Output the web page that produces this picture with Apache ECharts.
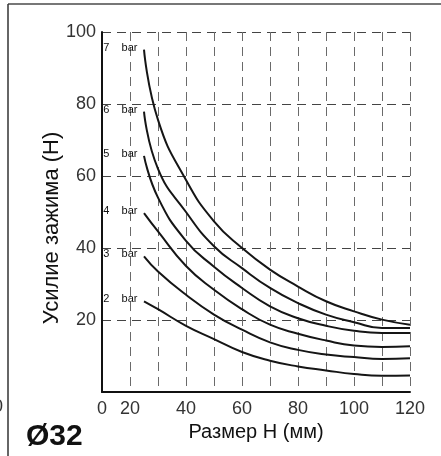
<!DOCTYPE html>
<html>
<head>
<meta charset="utf-8">
<style>
  html, body { margin: 0; padding: 0; background: #fff; }
  #chart { width: 441px; height: 456px; }
</style>
<script src="https://cdn.jsdelivr.net/npm/echarts@6/dist/echarts.min.js"></script>
</head>
<body>
<div id="chart"></div>
<script>
// Clamping force vs. jaw size H, cylinder bore Ø32, one curve per supply pressure
const sizeH = [25, 30, 40, 50, 60, 70, 80, 90, 100, 110, 120];
const force2bar = [25.2, 23.0, 18.4, 14.7, 11.1, 8.7, 7.1, 6.0, 5.0, 4.5, 4.6];
const force3bar = [37.7, 33.5, 27.0, 21.5, 17.3, 13.8, 11.7, 10.4, 9.7, 9.2, 9.4];
const force4bar = [49.7, 44.6, 35.0, 28.4, 23.0, 18.7, 16.2, 14.3, 12.9, 12.5, 12.7];
const force5bar = [65.6, 54.0, 42.0, 34.8, 28.9, 23.8, 20.5, 18.4, 17.0, 16.4, 16.4];
const force6bar = [77.9, 62.0, 50.0, 40.5, 34.4, 28.9, 24.7, 21.5, 19.4, 17.8, 17.8];
const force7bar = [95.1, 75.6, 58.9, 47.4, 40.0, 34.0, 29.3, 25.2, 22.4, 20.1, 18.7];

const pressureLabels = ['2    bar', '3    bar', '4    bar', '5    bar', '6    bar', '7    bar'];
const forceCurves = [force2bar, force3bar, force4bar, force5bar, force6bar, force7bar];

// x-axis tick texts (the axis starts at 10, shown as "0")
const xTickText = { 10: '0', 20: '20', 40: '40', 60: '60', 80: '80', 100: '100', 120: '120' };

const axisFont = 'Liberation Sans, Arial, sans-serif';

const series = forceCurves.map((values, i) => ({
  type: 'line',
  name: pressureLabels[i],
  smooth: 0.5,
  showSymbol: true,
  symbol: 'circle',
  symbolSize: 1,
  lineStyle: { color: '#151515', width: 2 },
  itemStyle: { color: 'rgba(0,0,0,0)', borderWidth: 0 },
  label: { show: false },
  data: values.map((v, k) => k === 0
    ? {
        value: [sizeH[k], v],
        label: {
          show: true,
          formatter: pressureLabels[i],
          position: 'left',
          distance: 6,
          offset: [0, -2],
          fontFamily: axisFont,
          fontSize: 11,
          color: '#111'
        }
      }
    : [sizeH[k], v]),
  z: 3
}));

const chart = echarts.init(document.getElementById('chart'), null, { renderer: 'canvas' });
chart.setOption({
  animation: false,
  backgroundColor: '#fff',
  grid: { left: 102, right: 31, top: 32, bottom: 64 },
  xAxis: {
    type: 'value',
    min: 10,
    max: 120,
    interval: 10,
    name: 'Размер Н (мм)',
    nameLocation: 'middle',
    nameGap: 29,
    nameTextStyle: { fontFamily: axisFont, fontSize: 20, color: '#111' },
    axisLine: { show: true, onZero: false, lineStyle: { color: '#111', width: 2 } },
    axisTick: { show: false },
    axisLabel: {
      margin: 8,
      fontFamily: axisFont,
      fontSize: 18,
      color: '#333',
      formatter: v => (xTickText[v] !== undefined ? xTickText[v] : '')
    },
    splitLine: { show: true, lineStyle: { color: '#6a6a6a', width: 1, type: [9, 6] } }
  },
  yAxis: {
    type: 'value',
    min: 0,
    max: 100,
    interval: 20,
    axisLine: { show: true, onZero: false, lineStyle: { color: '#111', width: 2 } },
    axisTick: { show: false },
    axisLabel: {
      margin: 6,
      showMinLabel: false,
      fontFamily: axisFont,
      fontSize: 18,
      color: '#333'
    },
    splitLine: { show: true, lineStyle: { color: '#444', width: 1, type: [9, 6] } }
  },
  series: series,
  graphic: [
    { type: 'line', shape: { x1: 8, y1: 4, x2: 441, y2: 4 }, style: { stroke: '#777', lineWidth: 2 } },
    { type: 'line', shape: { x1: 8, y1: 4, x2: 8, y2: 456 }, style: { stroke: '#333', lineWidth: 1.5 } },
    {
      type: 'text', x: 52, y: 228, rotation: Math.PI / 2,
      style: { text: 'Усилие зажима (Н)', font: '22px ' + axisFont, fill: '#111', textAlign: 'center', textVerticalAlign: 'middle' }
    },
    {
      type: 'text', x: 26, y: 437,
      style: { text: 'Ø32', font: 'bold 30px ' + axisFont, fill: '#111', textAlign: 'left', textVerticalAlign: 'middle' }
    },
    {
      type: 'text', x: 3, y: 407,
      style: { text: '0', font: '18px ' + axisFont, fill: '#333', textAlign: 'right', textVerticalAlign: 'middle' }
    }
  ]
});
</script>
</body>
</html>
